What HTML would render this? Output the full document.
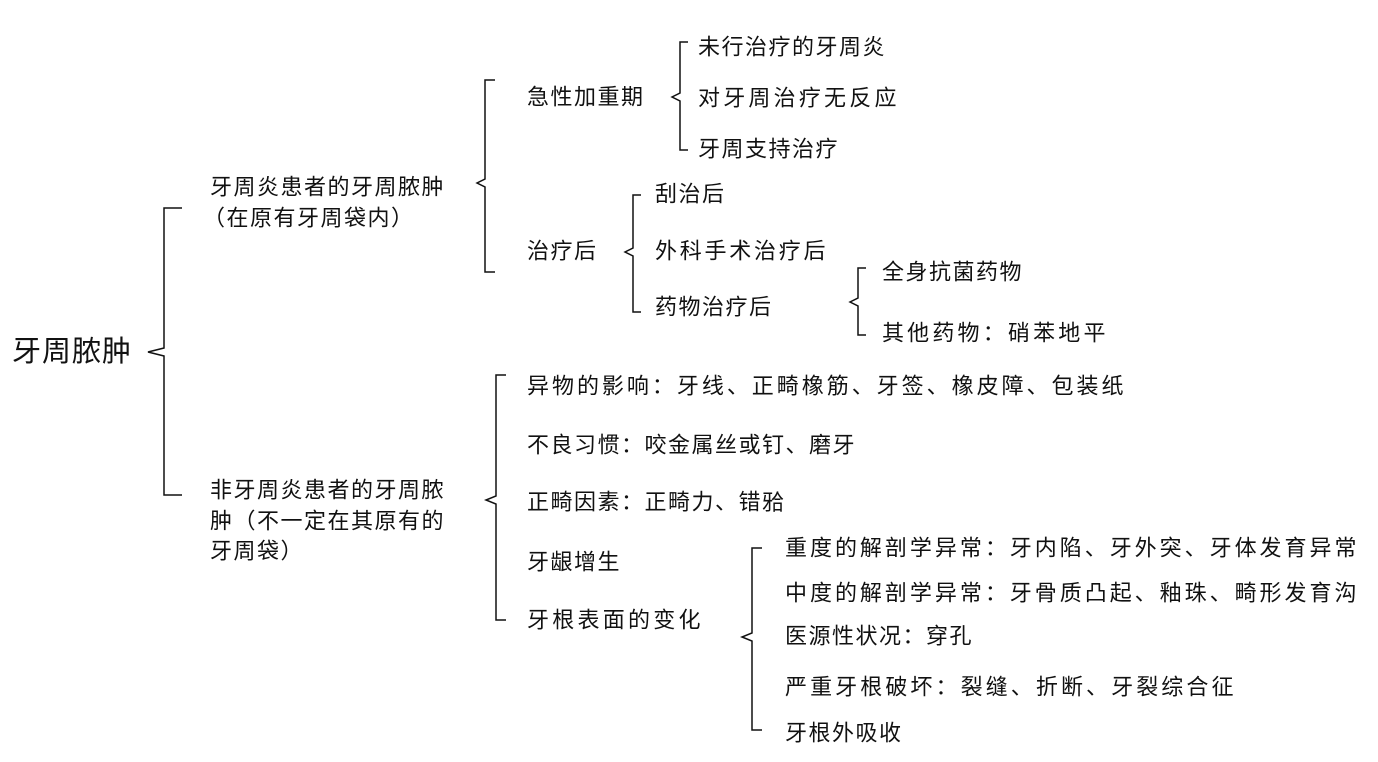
<!DOCTYPE html>
<html><head><meta charset="utf-8"><style>
html,body{margin:0;padding:0;background:#fff;}
svg{display:block}
text{font-family:"Liberation Sans","Noto Sans CJK SC",sans-serif;font-size:22px;fill:#111;dominant-baseline:central;letter-spacing:1.5px}
</style></head><body>
<svg width="1378" height="762" viewBox="0 0 1378 762" xmlns="http://www.w3.org/2000/svg">
<g fill="none" stroke="#111" stroke-width="1.5">
<path d="M182,208 H164 V348 L148,352 L164,356 V495 H182"/>
<path d="M495,80 H485 V179 L477,183 L485,187 V272 H495"/>
<path d="M506,375 H496 V496 L486,500 L496,504 V620 H506"/>
<path d="M688,42 H680 V93 L672,97 L680,101 V150 H688"/>
<path d="M641,195 H633 V248 L625,252 L633,256 V312 H641"/>
<path d="M866,268 H858 V298 L850,302 L858,306 V335 H866"/>
<path d="M762,548 H752 V633 L742,637 L752,641 V730 H762"/>
</g>
<text x="12" y="352" style="font-size:29px;letter-spacing:1px">牙周脓肿</text>
<text x="210" y="187">牙周炎患者的牙周脓肿</text>
<text x="203" y="218">（在原有牙周袋内）</text>
<text x="527" y="97">急性加重期</text>
<text x="698" y="47">未行治疗的牙周炎</text>
<text x="698" y="98" textLength="200" lengthAdjust="spacing">对牙周治疗无反应</text>
<text x="698" y="149">牙周支持治疗</text>
<text x="527" y="251">治疗后</text>
<text x="655" y="194">刮治后</text>
<text x="655" y="251" textLength="172" lengthAdjust="spacing">外科手术治疗后</text>
<text x="655" y="307">药物治疗后</text>
<text x="882" y="272">全身抗菌药物</text>
<text x="882" y="333" textLength="225" lengthAdjust="spacing">其他药物：硝苯地平</text>
<text x="527" y="386" textLength="598" lengthAdjust="spacing">异物的影响：牙线、正畸橡筋、牙签、橡皮障、包装纸</text>
<text x="527" y="445">不良习惯：咬金属丝或钉、磨牙</text>
<text x="527" y="502">正畸因素：正畸力、错<tspan>𬌗</tspan></text>
<text x="527" y="562">牙龈增生</text>
<text x="527" y="620" textLength="175" lengthAdjust="spacing">牙根表面的变化</text>
<text x="210" y="490">非牙周炎患者的牙周脓</text>
<text x="210" y="521">肿（不一定在其原有的</text>
<text x="210" y="551">牙周袋）</text>
<text x="785" y="548" textLength="573" lengthAdjust="spacing">重度的解剖学异常：牙内陷、牙外突、牙体发育异常</text>
<text x="785" y="593" textLength="573" lengthAdjust="spacing">中度的解剖学异常：牙骨质凸起、釉珠、畸形发育沟</text>
<text x="785" y="636">医源性状况：穿孔</text>
<text x="785" y="687" textLength="450" lengthAdjust="spacing">严重牙根破坏：裂缝、折断、牙裂综合征</text>
<text x="785" y="733">牙根外吸收</text>
</svg>
</body></html>
